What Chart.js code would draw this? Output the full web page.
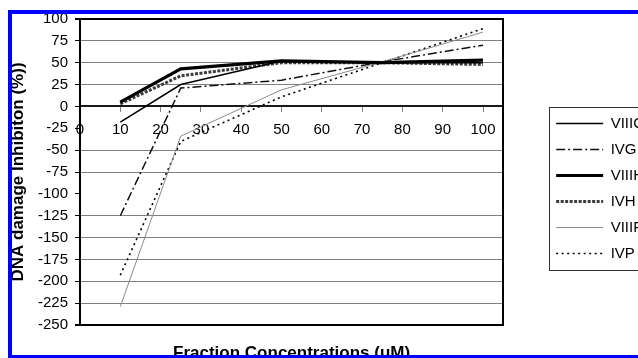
<!DOCTYPE html>
<html><head><meta charset="utf-8">
<script src="https://cdn.jsdelivr.net/npm/chart.js@4"></script>
<style>
html,body{margin:0;padding:0;background:#fff;overflow:hidden;width:638px;height:358px;}
#wrap{position:absolute;left:0;top:0;width:700px;height:358px;}
#frame{position:absolute;left:8px;top:10px;width:700px;height:349px;box-sizing:border-box;border-top:4px solid #0000ff;border-left:4px solid #0000ff;border-bottom:4px solid #0000ff;pointer-events:none;}
</style></head><body>
<div id="wrap"><canvas id="c" width="700" height="358"></canvas></div>
<div id="frame"></div>
<script>
// ---- data ----
const concentrations = [10, 25, 50, 75, 100];
const seriesNames = ['VIIIC', 'IVG', 'VIIIH', 'IVH', 'VIIIF', 'IVP'];
const VIIIC = [-18, 25, 52, 50, 50];
const IVG   = [-125, 21, 30, 51, 70];
const VIIIH = [5, 43, 52, 50, 53];
const IVH   = [3, 35, 50, 50, 48];
const VIIIF = [-229, -34, 19, 51, 85];
const IVP   = [-193, -40, 11, 50, 89];
const xTicks = [0, 10, 20, 30, 40, 50, 60, 70, 80, 90, 100];
const yTicks = [-250, -225, -200, -175, -150, -125, -100, -75, -50, -25, 0, 25, 50, 75, 100];
const xTitle = 'Fraction Concentrations (uM)';
const yTitle = 'DNA damage Inhibiton (%))';

const FAM = '"Liberation Sans", Arial, sans-serif';
Chart.defaults.font.family = FAM;

const values = [VIIIC, IVG, VIIIH, IVH, VIIIF, IVP];
const styles = [
  {borderColor: '#000000', borderWidth: 1.5, borderDash: []},
  {borderColor: '#111111', borderWidth: 1.5, borderDash: [9, 3, 2, 3]},
  {borderColor: '#000000', borderWidth: 3.2, borderDash: []},
  {borderColor: '#3c3c3c', borderWidth: 3, borderDash: [3, 1.5]},
  {borderColor: '#8a8a8a', borderWidth: 1, borderDash: []},
  {borderColor: '#000000', borderWidth: 1.6, borderDash: [2, 3.5]}
];

const datasets = seriesNames.map((name, i) => Object.assign({
  label: name,
  data: concentrations.map((x, j) => ({x: x, y: values[i][j]})),
  pointRadius: 0,
  tension: 0,
  fill: false
}, styles[i]));

const legendFrame = {
  id: 'legendFrame',
  afterDraw(chart) {
    const lg = chart.legend;
    const hb = lg.legendHitBoxes;
    if (!hb || !hb.length) return;
    const ctx = chart.ctx;
    const top = hb[0].top - 9;
    const last = hb[hb.length - 1];
    const bottom = last.top + last.height + 9;
    ctx.save();
    ctx.strokeStyle = '#333';
    ctx.lineWidth = 1;
    ctx.strokeRect(Math.round(lg.left + 4) + 0.5, Math.round(top) + 0.5, 300, Math.round(bottom - top));
    ctx.restore();
  }
};

new Chart(document.getElementById('c'), {
  type: 'line',
  data: {datasets: datasets},
  plugins: [legendFrame],
  options: {
    responsive: false,
    animation: false,
    layout: {padding: {top: 19, left: 0, right: 46, bottom: 0}},
    scales: {
      x: {
        type: 'linear',
        position: {y: 0},
        min: 0, max: 105,
        afterBuildTicks: s => { s.ticks = xTicks.map(v => ({value: v})); },
        afterFit: s => { s.height = 0; },
        ticks: {font: {size: 15}, color: '#000', padding: 9, maxRotation: 0, autoSkip: false},
        grid: {drawOnChartArea: false, tickLength: 5, tickColor: '#808080', tickWidth: 1},
        border: {display: true, color: '#1a1a1a', width: 2}
      },
      y: {
        type: 'linear',
        position: 'left',
        min: -250, max: 100,
        afterBuildTicks: s => { s.ticks = yTicks.map(v => ({value: v})); },
        afterFit: s => { s.width = 80; },
        ticks: {font: {size: 15}, color: '#000', padding: 7},
        grid: {
          color: c => {
            const v = c.tick ? c.tick.value : null;
            if (v === 100 || v === -250) return '#000';
            if (v === -25 || v === -100) return 'rgba(0,0,0,0)';
            return '#808080';
          },
          lineWidth: c => {
            const v = c.tick ? c.tick.value : null;
            return (v === 100 || v === -250) ? 2 : 1;
          },
          tickColor: '#000',
          tickLength: 5
        },
        border: {display: true, color: '#000', width: 2},
        title: {display: true, text: yTitle, color: '#000', font: {size: 17, weight: 'bold'}, padding: {top: 8, bottom: 0}}
      },
      y2: {
        type: 'linear',
        position: 'right',
        min: -250, max: 100,
        afterFit: s => { s.width = 42; },
        ticks: {display: false},
        grid: {display: false, drawTicks: false},
        border: {display: true, color: '#000', width: 2}
      }
    },
    plugins: {
      tooltip: {enabled: false},
      title: {
        display: true, position: 'bottom', fullSize: false, text: xTitle, color: '#000',
        font: {size: 17, weight: 'bold'}, padding: {top: 18.4, bottom: -5.8}
      },
      legend: {
        position: 'right',
        align: 'center',
        labels: {
          usePointStyle: true,
          pointStyle: 'line',
          pointStyleWidth: 47,
          padding: 11,
          color: '#000',
          font: {size: 15},
          generateLabels: chart => chart.data.datasets.map((ds, i) => ({
            text: ds.label,
            strokeStyle: ds.borderColor,
            fillStyle: ds.borderColor,
            lineWidth: ds.borderWidth,
            lineDash: ds.borderDash || [],
            lineCap: 'butt',
            pointStyle: 'line',
            hidden: false,
            datasetIndex: i,
            fontColor: '#000'
          }))
        }
      }
    }
  }
});
</script>
</body></html>
